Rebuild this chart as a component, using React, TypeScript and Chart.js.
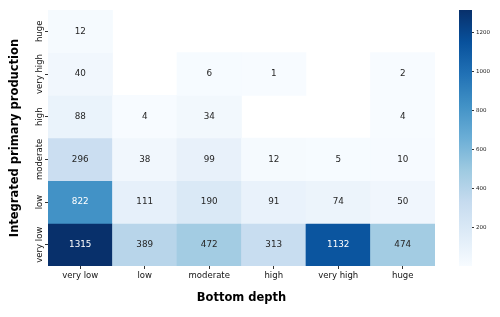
import React, { useEffect, useRef } from "react";
import { Chart, registerables } from "chart.js";

Chart.register(...registerables);

// Rows from top to bottom (Integrated primary production)
const rowLabels = ["huge", "very high", "high", "moderate", "low", "very low"];
// Columns from left to right (Bottom depth)
const colLabels = ["very low", "low", "moderate", "high", "very high", "huge"];

const countsHuge = [12, null, null, null, null, null];
const countsVeryHigh = [40, null, 6, 1, null, 2];
const countsHigh = [88, 4, 34, null, null, 4];
const countsModerate = [296, 38, 99, 12, 5, 10];
const countsLow = [822, 111, 190, 91, 74, 50];
const countsVeryLow = [1315, 389, 472, 313, 1132, 474];

const rowsData: (number | null)[][] = [
  countsHuge,
  countsVeryHigh,
  countsHigh,
  countsModerate,
  countsLow,
  countsVeryLow,
];

const colorbarTicks = [200, 400, 600, 800, 1000, 1200];

const xTitle = "Bottom depth";
const yTitle = "Integrated primary production";

const FONT = "DejaVu Sans";

const BLUES = [
  "#f7fbff",
  "#deebf7",
  "#c6dbef",
  "#9ecae1",
  "#6baed6",
  "#4292c6",
  "#2171b5",
  "#08519c",
  "#08306b",
];

function hexToRgb(h: string) {
  const n = parseInt(h.slice(1), 16);
  return [(n >> 16) & 255, (n >> 8) & 255, n & 255];
}

function bluesRgb(t: number) {
  const tt = Math.max(0, Math.min(1, t)) * (BLUES.length - 1);
  const i = Math.min(Math.floor(tt), BLUES.length - 2);
  const f = tt - i;
  const a = hexToRgb(BLUES[i]);
  const b = hexToRgb(BLUES[i + 1]);
  return a.map((v, k) => Math.round(v + (b[k] - v) * f));
}

function rgbStr(c: number[]) {
  return `rgb(${c[0]},${c[1]},${c[2]})`;
}

function luminance(c: number[]) {
  const lin = c.map((v) => {
    const x = v / 255;
    return x <= 0.03928 ? x / 12.92 : Math.pow((x + 0.055) / 1.055, 2.4);
  });
  return 0.2126 * lin[0] + 0.7152 * lin[1] + 0.0722 * lin[2];
}

const allVals = rowsData.flat().filter((v) => v != null) as number[];
const vmin = Math.min(...allVals);
const vmax = Math.max(...allVals);
const norm = (v: number) => (v - vmin) / (vmax - vmin);
const nRows = rowLabels.length;

export default function App() {
  const mainRef = useRef<HTMLCanvasElement>(null);
  const cbRef = useRef<HTMLCanvasElement>(null);

  useEffect(() => {
    if (!mainRef.current || !cbRef.current) return;

    const datasets = rowsData.map((vals, k) => {
      const r = nRows - 1 - k;
      return {
        label: rowLabels[k],
        data: vals.map((v) => (v == null ? null : [r - 0.5, r + 0.5])),
        backgroundColor: vals.map((v) =>
          v == null ? "rgba(0,0,0,0)" : rgbStr(bluesRgb(norm(v)))
        ),
        borderWidth: 0,
        barPercentage: 1,
        categoryPercentage: 1,
        grouped: false,
      };
    });

    const labelPlugin = {
      id: "heatLabels",
      afterDatasetsDraw(chart: any) {
        const ctx = chart.ctx;
        const yScale = chart.scales.y;
        const area = chart.chartArea;
        ctx.save();
        // cell annotations
        ctx.font = `8.8px '${FONT}'`;
        ctx.textAlign = "center";
        ctx.textBaseline = "middle";
        rowsData.forEach((vals, k) => {
          const meta = chart.getDatasetMeta(k);
          const r = nRows - 1 - k;
          const y = yScale.getPixelForValue(r);
          vals.forEach((v, j) => {
            if (v == null) return;
            const el = meta.data[j];
            const c = bluesRgb(norm(v));
            ctx.fillStyle = luminance(c) > 0.408 ? "#262626" : "#ffffff";
            ctx.fillText(String(v), el.x, y);
          });
        });
        // y tick labels (rotated)
        ctx.font = `8.5px '${FONT}'`;
        ctx.fillStyle = "#111";
        rowLabels.forEach((lab, k) => {
          const r = nRows - 1 - k;
          const y = yScale.getPixelForValue(r);
          ctx.save();
          ctx.translate(area.left - 8.5, y);
          ctx.rotate(-Math.PI / 2);
          ctx.fillText(lab, 0, 0);
          ctx.restore();
        });
        // axis titles
        ctx.font = `bold 11.5px '${FONT}'`;
        ctx.fillStyle = "#000";
        ctx.fillText(xTitle, (area.left + area.right) / 2, area.bottom + 32);
        ctx.save();
        ctx.translate(area.left - 33, (area.top + area.bottom) / 2);
        ctx.rotate(-Math.PI / 2);
        ctx.fillText(yTitle, 0, 0);
        ctx.restore();
        ctx.restore();
      },
    };

    const main = new Chart(mainRef.current, {
      type: "bar",
      data: { labels: colLabels, datasets: datasets as any },
      options: {
        responsive: false,
        animation: false,
        layout: { padding: { left: 0, right: 65, top: 10, bottom: 0 } },
        plugins: { legend: { display: false }, tooltip: { enabled: false } },
        scales: {
          x: {
            type: "category",
            offset: true,
            grid: {
              display: true,
              drawOnChartArea: false,
              drawTicks: true,
              tickLength: 3,
              color: "#333",
              offset: false,
            },
            border: { display: false },
            ticks: {
              font: { family: FONT, size: 8.5 },
              color: "#111",
              padding: 2,
              maxRotation: 0,
              minRotation: 0,
            },
            afterFit: (s: any) => {
              s.height = 51;
            },
          },
          y: {
            type: "linear",
            min: -0.5,
            max: nRows - 0.5,
            afterBuildTicks: (s: any) => {
              s.ticks = rowLabels.map((_, k) => ({ value: nRows - 1 - k }));
            },
            ticks: { display: false },
            grid: {
              display: true,
              drawOnChartArea: false,
              drawTicks: true,
              tickLength: 3,
              color: "#333",
            },
            border: { display: false },
            afterFit: (s: any) => {
              s.width = 48;
            },
          },
        },
      },
      plugins: [labelPlugin],
    });

    const cb = new Chart(cbRef.current, {
      type: "bar",
      data: {
        labels: [""],
        datasets: [
          {
            data: [[vmin, vmax]] as any,
            backgroundColor: (c: any) => {
              const area = c.chart.chartArea;
              if (!area) return BLUES[0];
              const g = c.chart.ctx.createLinearGradient(0, area.bottom, 0, area.top);
              BLUES.forEach((col, i) => g.addColorStop(i / (BLUES.length - 1), col));
              return g;
            },
            borderWidth: 0,
            barPercentage: 1,
            categoryPercentage: 1,
          },
        ],
      },
      options: {
        responsive: false,
        animation: false,
        layout: { padding: { left: 9, right: 0, top: 10, bottom: 51 } },
        plugins: { legend: { display: false }, tooltip: { enabled: false } },
        scales: {
          x: { display: false },
          y: {
            type: "linear",
            position: "right",
            min: vmin,
            max: vmax,
            afterBuildTicks: (s: any) => {
              s.ticks = colorbarTicks.map((v) => ({ value: v }));
            },
            ticks: {
              font: { family: FONT, size: 5.5 },
              color: "#222",
              padding: 2,
              callback: (v: any) => String(v),
            },
            grid: {
              display: true,
              drawOnChartArea: false,
              drawTicks: true,
              tickLength: 2,
              color: "#333",
            },
            border: { display: false },
            afterFit: (s: any) => {
              s.width = 28;
            },
          },
        },
      },
    });

    return () => {
      main.destroy();
      cb.destroy();
    };
  }, []);

  return (
    <div
      style={{
        position: "fixed",
        left: 0,
        top: 0,
        width: 500,
        height: 317,
        background: "#fff",
      }}
    >
      <canvas
        ref={mainRef}
        width={500}
        height={317}
        style={{ position: "absolute", left: 0, top: 0, width: 500, height: 317 }}
      />
      <canvas
        ref={cbRef}
        width={50}
        height={317}
        style={{ position: "absolute", left: 450, top: 0, width: 50, height: 317 }}
      />
    </div>
  );
}
